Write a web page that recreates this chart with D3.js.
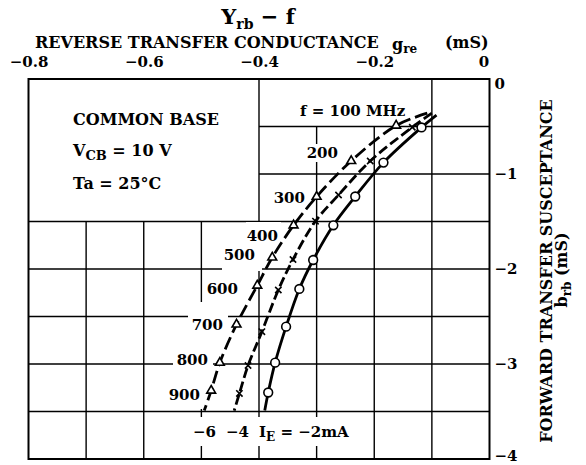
<!DOCTYPE html>
<html><head><meta charset="utf-8">
<script src="https://cdn.jsdelivr.net/npm/d3@7"></script>
<style>
body{margin:0;background:#fff}
svg{display:block}
text{font-family:"DejaVu Serif",serif;font-weight:bold;fill:#000}
</style>
</head><body>
<svg id="c" width="586" height="465"></svg>
<script>
// ---------- data ----------
const freqs = [100, 200, 300, 400, 500, 600, 700, 800, 900];           // MHz
// IE = -6 mA (triangles)
const tri_gre = [-0.162, -0.240, -0.300, -0.340, -0.377, -0.403, -0.439, -0.468, -0.483];
const tri_brb = [-0.49, -0.863, -1.239, -1.54, -1.879, -2.174, -2.584, -2.986, -3.28];
// IE = -4 mA (crosses)
const x_gre = [-0.134, -0.207, -0.262, -0.302, -0.341, -0.3665, -0.395, -0.419, -0.434];
const x_brb = [-0.508, -0.863, -1.221, -1.497, -1.90, -2.221, -2.66, -3.016, -3.31];
// IE = -2 mA (circles)
const o_gre = [-0.118, -0.184, -0.233, -0.271, -0.306, -0.330, -0.353, -0.372, -0.384];
const o_brb = [-0.51, -0.88, -1.237, -1.54, -1.905, -2.21, -2.607, -2.986, -3.30];
// drawn curve ends beyond the measured points [top, bottom]
const tri_ends = [[-0.108, -0.36], [-0.495, -3.49]];
const x_ends   = [[-0.100, -0.36], [-0.443, -3.49]];
const o_ends   = [[-0.092, -0.38], [-0.390, -3.49]];

const xTickLabels = [-0.8, -0.6, -0.4, -0.2, 0];
const yTickLabels = [0, -1, -2, -3, -4];
const xGrid = [-0.7, -0.6, -0.5, -0.4, -0.3, -0.2, -0.1];
const yGrid = [-0.5, -1.0, -1.5, -2.0, -2.5, -3.0, -3.5];

// ---------- layout ----------
const svg = d3.select("#c");
const x = d3.scaleLinear().domain([-0.8, 0]).range([28.5, 489.5]);
const y = d3.scaleLinear().domain([0, -4]).range([79, 459]);

// grid extents (blank legend box top-left, blank area under f label)
function vExt(v) {
  if (v < -0.45) return [-1.5, -4];
  if (v > -0.35 && v < -0.15) return [-0.5, -4];
  return [0, -4];
}
function hExt(v) { return v > -1.25 ? [-0.4, 0] : [-0.8, 0]; }

const grid = svg.append("g").attr("stroke", "#000").attr("stroke-width", 1.4);
grid.selectAll("line.v").data(xGrid).join("line").attr("class", "v")
  .attr("x1", d => x(d)).attr("x2", d => x(d))
  .attr("y1", d => y(vExt(d)[0])).attr("y2", d => y(vExt(d)[1]));
grid.selectAll("line.h").data(yGrid).join("line").attr("class", "h")
  .attr("y1", d => y(d)).attr("y2", d => y(d))
  .attr("x1", d => x(hExt(d)[0])).attr("x2", d => x(hExt(d)[1]));

svg.append("rect").attr("x", x(-0.8)).attr("y", y(0))
  .attr("width", x(0) - x(-0.8)).attr("height", y(-4) - y(0))
  .attr("fill", "none").attr("stroke", "#000").attr("stroke-width", 2);

// axes labels
const fmtX = d => d === 0 ? "0" : d3.format(".1f")(d);
const gx = svg.append("g").attr("transform", `translate(0,${y(0)})`)
  .call(d3.axisTop(x).tickValues(xTickLabels).tickSize(0).tickPadding(12).tickFormat(fmtX));
const gy = svg.append("g").attr("transform", `translate(${x(0)},0)`)
  .call(d3.axisRight(y).tickValues(yTickLabels).tickSize(0).tickPadding(5).tickFormat(d3.format("d")));
[gx, gy].forEach(g => {
  g.select(".domain").remove();
  g.attr("font-family", '"DejaVu Serif",serif').attr("font-size", 15).attr("font-weight", "bold");
});
gx.selectAll(".tick text").attr("dx", d => d === 0 ? -6 : 0);
gy.selectAll(".tick text").attr("dy", d => d === 0 ? "0.6em" : (d === -4 ? "0.12em" : "0.32em"));

// titles
const t = svg.append("text").attr("x", 258).attr("y", 24).attr("text-anchor", "middle").attr("font-size", 21);
t.append("tspan").text("Y");
t.append("tspan").attr("dy", 5).attr("font-size", 14).text("rb");
t.append("tspan").attr("dy", -5).text(" \u2212 f");

const st = svg.append("text").attr("x", 35).attr("y", 48).attr("font-size", 16);
st.append("tspan").text("REVERSE TRANSFER CONDUCTANCE");
st.append("tspan").attr("x", 392).attr("dy", 2).text("g");
st.append("tspan").attr("dy", 3).attr("font-size", 12).text("re");
st.append("tspan").attr("x", 445).attr("dy", -5).text("(mS)");

const rt = svg.append("g").attr("transform", "translate(552,271) rotate(-90)");
rt.append("text").attr("text-anchor", "middle").attr("font-size", 16).text("FORWARD TRANSFER SUSCEPTANCE");
const rt2 = svg.append("g").attr("transform", "translate(567,270) rotate(-90)");
const r2 = rt2.append("text").attr("text-anchor", "middle").attr("font-size", 16);
r2.append("tspan").text("b");
r2.append("tspan").attr("dy", 4).attr("font-size", 12).text("rb");
r2.append("tspan").attr("dy", -4).text("  (mS)");

// legend box text
const lg = svg.append("g").attr("font-size", 16);
lg.append("text").attr("x", 73).attr("y", 125).text("COMMON BASE");
const vcb = lg.append("text").attr("x", 73).attr("y", 156);
vcb.append("tspan").text("V");
vcb.append("tspan").attr("dy", 4).attr("font-size", 13).text("CB");
vcb.append("tspan").attr("dy", -4).text(" = 10 V");
lg.append("text").attr("x", 73).attr("y", 189).text("Ta = 25\u00B0C");

// frequency labels with white backgrounds (break grid lines)
const labels = [
  {t: "f = 100 MHz", x: 300, y: 116, a: "start"},
  {t: "200", x: 338, y: 158, a: "end", bg: "auto"},
  {t: "300", x: 305, y: 203, a: "end", bg: "auto"},
  {t: "400", x: 278, y: 241, a: "end", bg: [246, 222, 281, 246]},
  {t: "500", x: 255, y: 260, a: "end", bg: [222, 246, 262, 271]},
  {t: "600", x: 238, y: 294, a: "end", bg: "auto"},
  {t: "700", x: 223, y: 330, a: "end", bg: [188, 302, 228, 340]},
  {t: "800", x: 208, y: 365, a: "end", bg: [173, 340, 213, 378]},
  {t: "900", x: 200, y: 400, a: "end", bg: [165, 378, 205, 409]}
];
const bgG = svg.append("g");
const lab = svg.append("g").attr("font-size", 15);
labels.forEach(l => {
  const tx = lab.append("text").attr("x", l.x).attr("y", l.y).attr("text-anchor", l.a).text(l.t);
  if (l.bg === "auto") {
    const b = tx.node().getBBox();
    bgG.append("rect").attr("x", b.x - 2).attr("y", b.y).attr("width", b.width + 4).attr("height", b.height).attr("fill", "#fff");
  } else if (l.bg) {
    bgG.append("rect").attr("x", l.bg[0]).attr("y", l.bg[1]).attr("width", l.bg[2] - l.bg[0]).attr("height", l.bg[3] - l.bg[1]).attr("fill", "#fff");
  }
});
// bottom IE label
bgG.append("rect").attr("x", 186).attr("y", 417).attr("width", 176).attr("height", 29).attr("fill", "#fff");
const ie = lab.append("g");
ie.append("text").attr("x", 193).attr("y", 437).text("\u22126");
ie.append("text").attr("x", 226).attr("y", 437).text("\u22124");
const iet = ie.append("text").attr("x", 259).attr("y", 437);
iet.append("tspan").text("I");
iet.append("tspan").attr("dy", 4).attr("font-size", 12).text("E");
iet.append("tspan").attr("dy", -4).text(" = \u22122mA");

// ---------- curves ----------
const series = [
  {g: tri_gre, b: tri_brb, ends: tri_ends, dash: "13,5", sym: "tri"},
  {g: x_gre, b: x_brb, ends: x_ends, dash: "10,4", sym: "x"},
  {g: o_gre, b: o_brb, ends: o_ends, dash: null, sym: "o"}
];
const line = d3.line().x(d => x(d[0])).y(d => y(d[1])).curve(d3.curveCatmullRom.alpha(0.5));
const crossSym = {draw(ctx, size) { const r = Math.sqrt(size) / 2; ctx.moveTo(-r, -r); ctx.lineTo(r, r); ctx.moveTo(r, -r); ctx.lineTo(-r, r); }};

series.forEach(s => {
  const pts = freqs.map((f, i) => [s.g[i], s.b[i]]);
  const all = [s.ends[0], ...pts, s.ends[1]];
  svg.append("path").attr("d", line(all)).attr("fill", "none").attr("stroke", "#000")
    .attr("stroke-width", 2.8).attr("stroke-dasharray", s.dash);
  const mk = svg.append("g");
  pts.forEach(p => {
    let path;
    if (s.sym === "tri") path = d3.symbol(d3.symbolTriangle, 34)();
    else if (s.sym === "x") path = d3.symbol(crossSym, 40)();
    else path = d3.symbol(d3.symbolCircle, 60)();
    mk.append("path").attr("d", path).attr("transform", `translate(${x(p[0])},${y(p[1])})`)
      .attr("fill", s.sym === "x" ? "none" : "#fff").attr("stroke", "#000").attr("stroke-width", 1.6);
  });
});
</script>
</body></html>
